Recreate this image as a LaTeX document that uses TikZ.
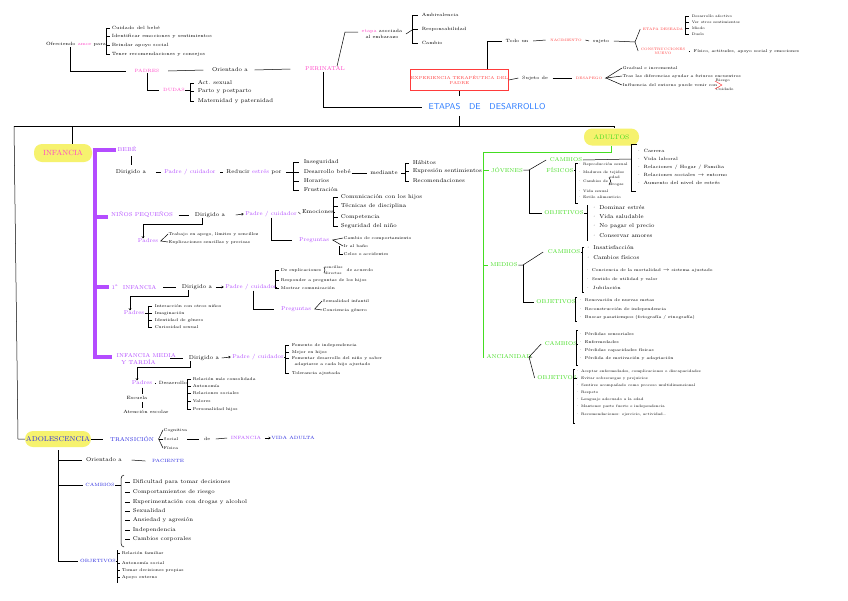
\documentclass[tikz,border=0pt]{standalone}
\usetikzlibrary{positioning,arrows.meta}
\definecolor{rosa}{HTML}{FF45C8}
\definecolor{lila}{HTML}{B44CFF}
\definecolor{rojo}{HTML}{FF3B3B}
\definecolor{verde}{HTML}{44DD22}
\definecolor{azul}{HTML}{2A7BFF}
\definecolor{marino}{HTML}{2B2BE0}
\definecolor{amarillo}{HTML}{F6F26E}
\tikzset{
  every node/.style={inner sep=0.5pt},
  tx/.style={font=\fontsize{4.6}{5.4}\selectfont},
  md/.style={font=\fontsize{5.6}{6.4}\selectfont},
  mn/.style={font=\fontsize{4.1}{4.8}\selectfont},
  mini/.style={font=\fontsize{3.6}{4.2}\selectfont},
  it/.style={tx,anchor=west},
  itm/.style={md,anchor=west},
  itn/.style={mn,anchor=west},
  iti/.style={mini,anchor=west},
  ros/.style={tx,text=rosa},
  lil/.style={md,text=lila},
  roj/.style={font=\fontsize{3.5}{4.3}\selectfont,text=rojo},
  ver/.style={md,text=verde},
  azu/.style={tx,text=marino},
  resalte/.style={fill=amarillo,rounded corners=8pt,minimum height=18pt},
  ln/.style={line width=0.5pt},
  flecha/.style={ln,-{To[length=2.2pt,width=2.6pt]}},
  barra/.style={lila,line width=3.6pt,line join=miter},
}
\begin{document}
\begin{tikzpicture}[x=1pt,y=-1pt]
\fill[white] (0,0) rectangle (848,600);
\useasboundingbox (0,0) rectangle (848,600);

% padres y perinatal
\node[tx] (ofrece) at (76,44) {Ofreciendo \textcolor{rosa}{amor} para};
\draw[ln] (ofrece.east) -- (106,44);
\draw[ln] (106,28) -- (106,54);
\foreach \yy/\t [count=\i] in {28/Cuidado del bebé,36/Identificar emociones y sentimientos,45/Brindar apoyo social,54/Tener recomendaciones y consejos}
  \draw[ln] (106,\yy) -- ++(4,0) node[it,xshift=1pt] (ofr\i) {\t};
\node[ros] (padres) at (147,71) {PADRES};
\draw[ln] ([xshift=-6pt]ofrece.south) |- ([xshift=-8pt]padres.west);
\node[md] (orient) at (230,70) {Orientado a};
\draw[ln] ([xshift=8pt]padres.east) -- ([xshift=-8pt]orient.west);
\node[ros,md] (perinatal) at (325,69) {PERINATAL};
\draw[ln] ([xshift=6pt]orient.east) -- ([xshift=-14pt]perinatal.west);
\node[ros] (dudas) at (174,90) {DUDAS};
\draw[ln] (padres.south) |- ([xshift=-4pt]dudas.west);
\draw[ln] (dudas.east) -- (190,90);
\draw[ln] (190,83) -- (190,101);
\foreach \yy/\t [count=\i] in {83/Act. sexual,91/Parto y postparto,101/Maternidad y paternidad}
  \draw[ln] (190,\yy) -- ++(4,0) node[itm,xshift=3pt] (dud\i) {\t};
\coordinate (codo) at (345,32);
\node[tx,align=center] (etapa) at (382,34) {\textcolor{rosa}{etapa} asociada\\al embarazo};
\draw[ln] ([xshift=12pt]perinatal.north) -- (codo) -- ([xshift=-3pt]etapa.west |- codo);
\draw[ln] ([xshift=3pt]etapa.east) -- (412,30);
\draw[ln] (412,15) -- (412,43);
\foreach \yy/\t [count=\i] in {15/Ambivalencia,29/Responsabilidad,43/Cambio}
  \draw[ln] (412,\yy) -- ++(6,0) node[it,xshift=3pt] (emb\i) {\t};

% experiencia y etapas
\node[draw=rojo,ln,text=rojo,font=\fontsize{4.2}{5.6}\selectfont,align=center,minimum width=93pt,minimum height=21pt] (exper) at (459.5,80) {EXPERIENCIA TERAPÉUTICA DEL\\PADRE};
\node[text=azul,font=\fontsize{8.5}{9}\selectfont\sffamily] (etapas) at (487,107) {ETAPAS\ \ \ DE\ \ \ DESARROLLO};
\draw[ln] ([xshift=-2pt]perinatal.south) |- ([xshift=-6pt]etapas.west);
\draw[ln] (exper.south) -- ++(0,5);
\coordinate (esq) at (14,126);
\draw[ln] ([yshift=-5pt]etapas.south -| exper.south) -- (exper.south |- esq);

% nacimiento
\node[tx] (vive) at (517,41) {Todo un};
\draw[ln] ([xshift=28pt]exper.north) |- ([xshift=-3pt]vive.west);
\node[roj] (nacim) at (566,40) {NACIMIENTO};
\draw[ln] ([xshift=4pt]vive.east) -- ([xshift=-4pt]nacim.west);
\node[tx] (sujeto) at (601,41) {sujeto};
\draw[ln] ([xshift=3pt]nacim.east) -- ([xshift=-3pt]sujeto.west);
\coordinate (bif1) at (635,42);
\node[roj] (deseada) at (663,29) {ETAPA DESEADA};
\node[roj,align=center] (constr) at (663,51) {CONSTRUCCIONES\\NUEVO};
\draw[ln] ([xshift=4pt]sujeto.east) -- (bif1);
\draw[ln] ([xshift=-2pt]deseada.west) -- (bif1) -- ([xshift=-2pt]constr.west);
\draw[ln] ([xshift=1pt]deseada.east) -- (685,29);
\draw[ln] (685,16) -- (685,34);
\foreach \yy/\t [count=\i] in {16/Desarrollo afectivo,22/Ver otros sentimientos,28/Miedo,34/Duelo}
  \draw[ln] (685,\yy) -- ++(4,0) node[iti,xshift=2pt] (des\i) {\t};
\node[itn] (fisac) at (693,51) {Físico, actitudes, apoyo social y emociones};
\draw[ln] ([xshift=3pt]constr.east) -- ([xshift=-3pt]fisac.west);

% desapego
\node[tx] (sujde) at (535,78) {Sujeto de};
\draw[ln] (exper.east) -- ([xshift=-3pt]sujde.west);
\node[roj] (desapego) at (589,78) {DESAPEGO};
\draw[ln] ([xshift=4pt]sujde.east) -- ([xshift=-3pt]desapego.west);
\coordinate (bif2) at (606,78);
\node[itn] (gradual) at (622,68) {Gradual e incremental};
\node[itn] (trae) at (622,76) {Tras las diferencias ayudar a futuros encuentros};
\node[itn] (influ) at (622,85) {Influencia del entorno puede venir con};
\draw[ln] ([xshift=2pt]desapego.east) -- (bif2) -- (gradual.west);
\draw[ln] (bif2) -- (trae.west);
\draw[ln] (bif2) -- (influ.west);
\node[iti] (riesgo) at (715,81) {Riesgo};
\node[iti] (cuidado) at (715,89) {Cuidado};
\draw[rojo,ln] (riesgo.west) -- ([xshift=4pt]influ.east) -- (cuidado.west);

% infancia
\node[resalte,minimum width=58pt,text=rosa,font=\fontsize{7.5}{8}\selectfont] (infancia) at (63,153) {INFANCIA};
\draw[ln] ([xshift=9pt]infancia.north) -- ([xshift=9pt]infancia.north |- esq);
\draw[barra] (116,150) -- (95,150) -- (95,357) -- (112,357);
\draw[barra] (95,217) -- (108,217);
\draw[barra] (95,287) -- (109,287);

% bebe
\node[lil] (bebe) at (127,149) {BEBÉ};
\node[md] (dir1) at (131,172) {Dirigido a};
\draw[ln,shorten <=4pt,shorten >=4pt] (bebe.south -| dir1.north) -- (dir1.north);
\node[lil] (padre1) at (190,172) {Padre / cuidador};
\draw[ln] ([xshift=9pt]dir1.east) -- ([xshift=-3pt]padre1.west);
\node[md] (reducir) at (254,172) {Reducir\ \textcolor{lila}{estrés}\ por};
\draw[ln] ([xshift=4pt]padre1.east) -- ([xshift=-3pt]reducir.west);
\draw[ln] ([xshift=4pt]reducir.east) -- (293,172);
\draw[ln] (293,162) -- (293,190);
\foreach \yy/\t [count=\i] in {162/Inseguridad,172/Desarrollo bebé,181/Horarios,190/Frustración}
  \draw[ln] (293,\yy) -- ++(6,0) node[itm,xshift=4pt] (beb\i) {\t};
\node[md] (mediante) at (384,173) {mediante};
\draw[ln] ([xshift=-18pt]mediante.west) -- ([xshift=-3pt]mediante.west);
\draw[ln] ([xshift=3pt]mediante.east) -- (405,173);
\draw[ln] (405,163) -- (405,181);
\foreach \yy/\t [count=\i] in {163/Hábitos,171/Expresión sentimientos,181/Recomendaciones}
  \draw[ln] (405,\yy) -- ++(4,0) node[itm,xshift=3pt] (med\i) {\t};

% ninos pequenos
\node[lil] (ninos) at (142,215) {NIÑOS PEQUEÑOS};
\node[md] (dir2) at (210,215) {Dirigido a};
\draw[ln] ([xshift=5pt]ninos.east) -- ([xshift=-5pt]dir2.west);
\node[lil] (padre2) at (271,214) {Padre / cuidador};
\draw[flecha] ([xshift=10pt]dir2.east) -- ([xshift=-1pt]padre2.west);
\node[md] (emoc) at (318,212) {Emociones};
\draw[ln] ([xshift=3pt]padre2.east) -- ([xshift=-3pt]emoc.west);
\draw[ln] (emoc.east) -- (333,212);
\draw[ln] (333,197) -- (333,226);
\foreach \yy/\t [count=\i] in {197/Comunicación con los hijos,206/Técnicas de disciplina,217/Competencia,226/Seguridad del niño}
  \draw[ln] (333,\yy) -- ++(5,0) node[itm,xshift=2pt] (emo\i) {\t};
\node[lil] (preg2) at (314,240) {Preguntas};
\draw[ln] (padre2.south) |- ([xshift=-6pt]preg2.west);
\node[itn] (cambio) at (343,238) {Cambio de comportamiento};
\node[itn] (bano) at (343,246) {Ir al baño};
\node[itn] (celos) at (343,254) {Celos o accidentes};
\draw[ln] (cambio.west) -- ([xshift=3pt]preg2.east) -- (bano.west);
\draw[ln] ([xshift=-4pt]bano.west) |- (celos.west);
\node[lil] (pad2) at (148,241) {Padres};
\draw[flecha] ([xshift=-8pt]dir2.south) -- ++(0,6) -| ([xshift=-5pt]pad2.north);
\node[itn] (trab) at (168,234) {Trabajo en apego, límites y sencillez};
\node[itn] (expl) at (168,242) {Explicaciones sencillas y precisas};
\draw[ln] (trab.west) -- ([xshift=2pt]pad2.east) -- (expl.west);

% primera infancia
\node[lil] (prim) at (134,287) {1\textsuperscript{a}\ \ INFANCIA};
\node[md] (dir3) at (197,287) {Dirigido a};
\draw[ln] ([xshift=6pt]prim.east) -- ([xshift=-5pt]dir3.west);
\node[lil] (padre3) at (251,287) {Padre / cuidador};
\draw[flecha] ([xshift=3pt]dir3.east) -- ([xshift=-1pt]padre3.west);
\draw[ln] (padre3.east) -- (275,287);
\draw[ln] (275,270) -- (275,288);
\foreach \yy/\t [count=\i] in {270/De explicaciones,280/Responder a preguntas de los hijos,288/Mostrar comunicación}
  \draw[ln] (275,\yy) -- ++(4,0) node[itn,xshift=1pt] (pri\i) {\t};
\node[iti] (senc) at (324,267) {sencillas};
\node[iti] (direc) at (324,273) {directas};
\node[itn] (acuerdo) at (346,270) {de acuerdo};
\draw[ln] (senc.west) -- ([xshift=3pt]pri1.east) -- (direc.west);
\node[lil] (preg3) at (296,309) {Preguntas};
\draw[ln] ([xshift=2pt]padre3.south) |- ([xshift=-6pt]preg3.west);
\node[itn] (sexinf) at (322,301) {Sexualidad infantil};
\node[itn] (concgen) at (322,310) {Conciencia género};
\draw[ln] (sexinf.west) -- ([xshift=3pt]preg3.east) -- (concgen.west);
\node[lil] (pad3) at (134,313) {Padres};
\draw[flecha] ([xshift=-9pt]dir3.south) -- ++(0,6) -| ([xshift=-4pt]pad3.north);
\draw[ln] (pad3.east) -- (148,313);
\draw[ln] (148,306) -- (148,327);
\foreach \yy/\t [count=\i] in {306/Interacción con otros niños,313/Imaginación,320/Identidad de género,327/Curiosidad sexual}
  \draw[ln] (148,\yy) -- ++(4,0) node[itn,xshift=2pt] (pa3\i) {\t};

% infancia media y tardia
\node[lil,align=left,anchor=west] (media) at (116,359) {INFANCIA MEDIA\\\ \ Y TARDÍA};
\node[md] (dir4) at (204,358) {Dirigido a};
\draw[ln] ([xshift=-18pt]dir4.west) -- ([xshift=-5pt]dir4.west);
\node[lil] (padre4) at (258,357) {Padre / cuidador};
\draw[flecha] ([xshift=2pt]dir4.east) -- ([xshift=-1pt]padre4.west);
\draw[ln] (padre4.east) -- (285,357);
\draw[ln] (285,345) -- (285,373);
\foreach \yy/\t [count=\i] in {345/Fomento de independencia,352/Mejor en hijos,358/Fomentar desarrollo del niño y saber,373/Tolerancia ajustada}
  \draw[ln] (285,\yy) -- ++(4,0) node[itn,xshift=2pt] (me\i) {\t};
\node[itn] (adapt) at (294,364) {adaptarse a cada hijo ajustado};
\node[lil] (pad4) at (142,383) {Padres};
\draw[flecha] ([xshift=-14pt]dir4.south) -- ++(0,6) -| ([xshift=-5pt]pad4.north);
\node[tx] (desa) at (173,383) {Desarrollo};
\draw[ln] ([xshift=2pt]pad4.east) -- ([xshift=-2pt]desa.west);
\draw[ln] (desa.east) -- (187,383);
\draw[ln] (187,379) -- (187,409);
\foreach \yy/\t [count=\i] in {379/Relación más consolidada,386/Autonomía,393/Relaciones sociales,401/Valores,409/Personalidad hijos}
  \draw[ln] (187,\yy) -- ++(4,0) node[itn,xshift=1pt] (de\i) {\t};
\node[tx] (escuela) at (137,398) {Escuela};
\draw[ln,shorten <=2pt,shorten >=2pt] (pad4.south) -- (pad4.south |- escuela.north);
\node[tx] (atenc) at (146,412) {Atención escolar};
\draw[ln,shorten <=2pt,shorten >=2pt] ([xshift=5pt]escuela.south) -- ([xshift=5pt]escuela.south |- atenc.north);

% adolescencia
\node[resalte,minimum width=66pt,minimum height=16pt,text=marino,font=\fontsize{7}{8}\selectfont] (adolesc) at (58,439) {ADOLESCENCIA};
\draw[ln] (esq) -- (18,439) -- (adolesc.west);
\node[azu,md] (trans) at (132,439) {TRANSICIÓN};
\draw[ln] (adolesc.east) -- ([xshift=-6pt]trans.west);
\node[itn] (cogn) at (163,430) {Cognitiva};
\node[itn] (social) at (163,439) {Social};
\node[itn] (fisica) at (163,448) {Física};
\draw[ln] (cogn.west) -- ([xshift=4pt]trans.east) -- (fisica.west);
\draw[ln] ([xshift=4pt]trans.east) -- (social.west);
\node[tx] (de) at (207,439) {de};
\draw[ln] ([xshift=-16pt]de.west) -- ([xshift=-4pt]de.west);
\node[tx,text=lila] (infa) at (246,438) {INFANCIA};
\draw[ln] ([xshift=5pt]de.east) -- ([xshift=-3pt]infa.west);
\node[azu] (vida) at (293,438) {VIDA ADULTA};
\draw[flecha] ([xshift=3pt]infa.east) -- (vida.west);
\node[md] (orad) at (104,460) {Orientado a};
\node[azu] (paciente) at (168,461) {PACIENTE};
\node[azu] (cambad) at (100,485) {CAMBIOS};
\node[azu] (objad) at (98,561) {OBJETIVOS};
\draw[ln] (58,450) -- (58,561) -- ([xshift=-2pt]objad.west);
\draw[ln] (58,460) -- ([xshift=-3pt]orad.west);
\draw[ln] ([xshift=9pt]orad.east) -- ([xshift=-6pt]paciente.west);
\draw[ln] (58,485) -- ([xshift=-2pt]cambad.west);
\draw[ln] (124,475) to[out=180,in=90] (121,479) -- (121,543) to[out=-90,in=180] (124,547);
\draw[ln] (cambad.east) -- (121,485);
\foreach \yy/\t [count=\i] in {482/Dificultad para tomar decisiones,492/Comportamientos de riesgo,502/Experimentación con drogas y alcohol,511/Sexualidad,520/Ansiedad y agresión,530/Independencia,539/Cambios corporales}
  \draw[ln] (125,\yy) -- ++(5,0) node[itm,xshift=2pt] (ca\i) {\t};
\draw[ln] (objad.east) -- (117,561);
\draw[ln] (117,550) -- (117,583);
\foreach \yy/\t [count=\i] in {553/Relación familiar,563/Autonomía social,570/Tomar decisiones propias,577/Apoyo externo}
  \draw[ln] (117,\yy) -- ++(3,0) node[itn,xshift=1pt] (ob\i) {\t};

% adultos
\node[resalte,minimum width=55pt,minimum height=17pt,text=verde,font=\fontsize{6.5}{7}\selectfont] (adultos) at (611.5,137) {ADULTOS};
\draw[ln] (esq) -- ([xshift=2.5pt]adultos.north |- esq) -- ([xshift=2.5pt]adultos.north);
\node[ver] (jov) at (507,170) {JÓVENES};
\node[ver] (medios) at (504,265) {MEDIOS};
\node[ver] (ancian) at (509,357) {ANCIANIDAD};
\draw[verde,line width=0.7pt] (adultos.south) |- (483,152) -- (483,357) -- ([xshift=-3pt]ancian.west);
\draw[verde,line width=0.7pt] (483,170) -- ([xshift=-2pt]jov.west);
\draw[verde,line width=0.7pt] (483,265) -- ([xshift=-2pt]medios.west);

% jovenes
\coordinate (bif3) at (529,170);
\node[ver] (camb1) at (566,160) {CAMBIOS};
\node[ver] (fisicos) at (560,170) {FÍSICOS};
\node[ver] (obj1) at (564,213) {OBJETIVOS};
\draw[ln] (jov.east) -- (bif3) -- ([xshift=-3pt]camb1.west);
\draw[ln] (bif3) |- ([xshift=-2pt]obj1.west);
\draw[ln] (camb1.east) -- (631,159);
\draw[ln] (637,144) -- (631,144) -- (631,191) -- (636,191);
\foreach \yy/\t [count=\i] in {151/Carrera,159/Vida laboral,167/{Relaciones / Hogar / Familia},175/Relaciones sociales $\rightarrow$ entorno,183/Aumento del nivel de estrés}
  \node[it] (cj\i) at (636,\yy) {· \t};
\draw[ln] (fisicos.east) -- (575,170);
\draw[ln] (578,163) -- (575,163) -- (575,203) -- (578,203);
\foreach \yy/\t [count=\i] in {165/Reproducción sexual,173/Madurez de tejidos,181/Cambios de,191/Vida sexual,197/Estilo alimenticio}
  \node[iti] (fj\i) at (577,\yy) {· \t};
\node[iti] (edad) at (609,177) {edad};
\node[iti] (drogas) at (609,185) {drogas};
\draw[ln] (edad.west) -- ([xshift=2pt]fj3.east) -- (drogas.west);
\draw[ln] (obj1.east) -- (587,213);
\draw[ln] (587,205) -- (587,241);
\foreach \yy/\t [count=\i] in {208/Dominar estrés,217/Vida saludable,226/No pagar el precio,236/Conservar amores}
  \node[itm] (oj\i) at (591,\yy) {· \t};

% medios
\coordinate (bif4) at (523,265);
\node[ver] (camb2) at (564,252) {CAMBIOS};
\node[ver] (obj2) at (556,302) {OBJETIVOS};
\draw[ln] (medios.east) -- (bif4) -- ([xshift=-4pt]camb2.west);
\draw[ln] (bif4) |- ([xshift=-2pt]obj2.west);
\draw[ln] (camb2.east) -- (582,252);
\draw[ln] (584,247) -- (582,247) -- (582,292) -- (584,292);
\node[itm] (cm1) at (585,248) {· Insatisfacción};
\node[itm] (cm2) at (585,258) {· Cambios físicos};
\node[itn] (cm3) at (585,270) {· Conciencia de la mortalidad $\rightarrow$ sistema ajustado};
\node[itn] (cm4) at (585,279) {· Sentido de utilidad y valor};
\node[it] (cm5) at (585,288) {· Jubilación};
\draw[ln] (obj2.east) -- (575,302);
\draw[ln] (577,297) -- (575,297) -- (575,321) -- (577,321);
\foreach \yy/\t [count=\i] in {300/Renovación de nuevas metas,309/Reconstrucción de independencia,317/{Buscar pasatiempos (fotografía / etnografía)}}
  \node[itn] (om\i) at (578,\yy) {· \t};

% ancianidad
\coordinate (bif5) at (529,357);
\node[ver] (camb3) at (561,344) {CAMBIOS};
\node[ver] (obj3) at (557,378) {OBJETIVOS};
\draw[ln] (ancian.east) -- (bif5) -- ([xshift=-3pt]camb3.west);
\draw[ln] (bif5) -- ([xshift=-2pt]obj3.west);
\draw[ln] (camb3.east) -- (576,344);
\draw[ln] (578,330) -- (576,330) -- (576,365) -- (578,365);
\foreach \yy/\t [count=\i] in {334/Pérdidas sensoriales,342/Enfermedades,350/Pérdidas capacidades físicas,358/Pérdida de motivación y adaptación}
  \node[itn] (ca3\i) at (578,\yy) {· \t};
\draw[ln] (obj3.east) -- (573,378);
\draw[ln] (575,369) -- (573,369) -- (573,423) -- (575,423);
\foreach \yy/\t [count=\i] in {372/{Aceptar enfermedades, complicaciones o discapacidades},379/Evitar sobrecargas y prejuicios,386/Sentirse acompañado como proceso multidimensional,393/Respeto,400/Lenguaje adecuado a la edad,407/Mantener parte fuerte e independencia,415/{Recomendaciones: ejercicio, actividad\dots}}
  \node[iti] (oa\i) at (575,\yy) {· \t};
\end{tikzpicture}
\end{document}
